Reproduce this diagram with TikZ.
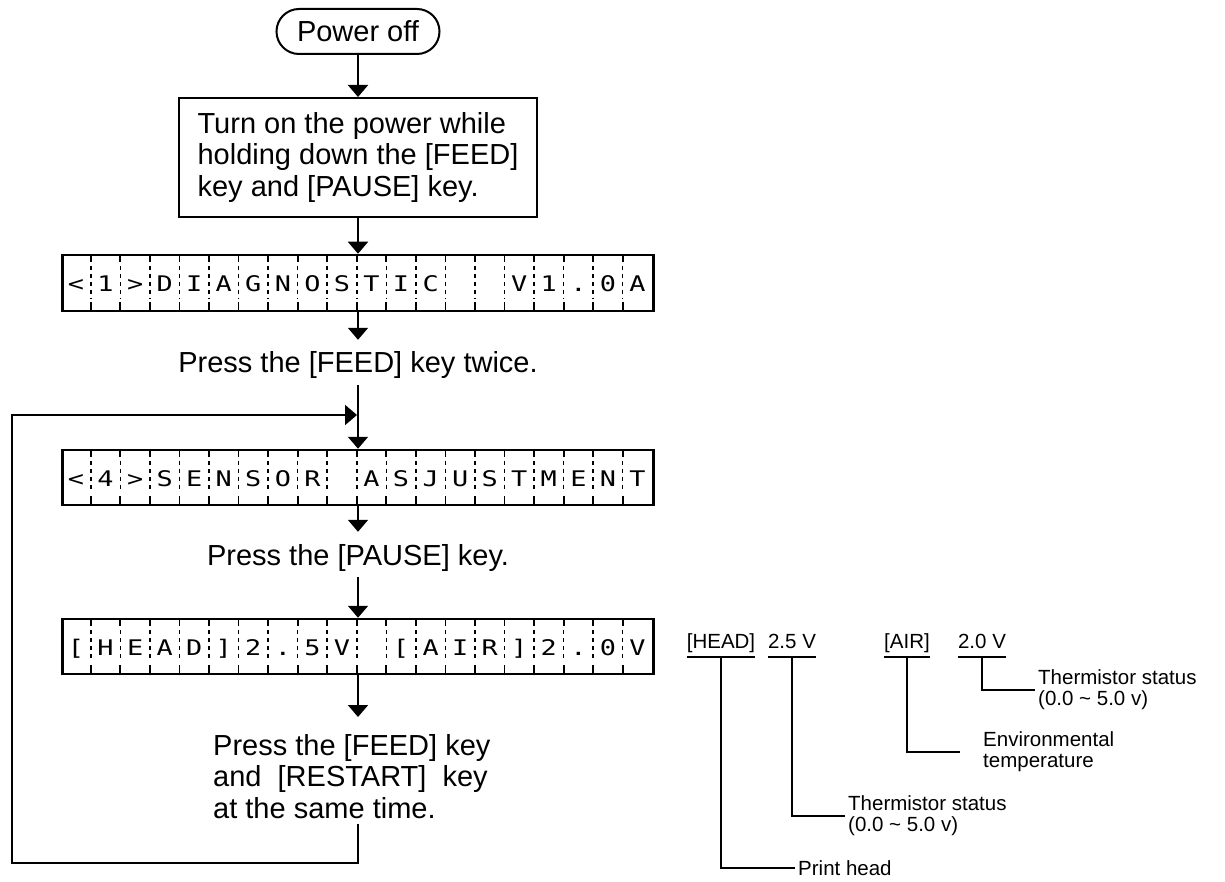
\documentclass[tikz,border=0pt]{standalone}
\usepackage{fontspec}
\setmainfont{Liberation Sans}
\newfontfamily\lcdfont[FakeStretch=1.25]{DejaVu Sans Mono}
\usetikzlibrary{arrows.meta,calc}

\newcommand{\bigtxt}{\fontsize{29}{31.5}\selectfont}
\newcommand{\smalltxt}{\fontsize{20.5}{21}\selectfont}
\newcommand{\lcdtxt}{\fontsize{21.5}{22}\selectfont\lcdfont}

\begin{document}
\begin{tikzpicture}[x=1pt, y=-1pt,
  arr/.style={line width=2pt, -{Triangle[length=12pt,width=20pt]}},
  box/.style={draw, line width=2pt, font=\bigtxt},
  lcd/.style={draw, line width=2.5pt, minimum width=591pt, minimum height=55pt, inner sep=0pt},
  cell/.style={font=\lcdtxt, anchor=base, inner sep=0pt},
  tick/.style={line width=1.8pt},
  gap/.style={line width=1.5pt, dash pattern=on 4pt off 4pt},
  note/.style={font=\bigtxt, inner sep=0pt},
  lbl/.style={font=\smalltxt, inner sep=0pt, text depth=9pt, anchor=base},
  desc/.style={font=\smalltxt, inner sep=3pt, align=left, anchor=west},
  lead/.style={line width=2pt}]
\useasboundingbox (0,0) rectangle (1225,882);

% Start
\node[box, rounded corners=22.5pt, minimum width=163pt, minimum height=45pt] (poweroff) at (358,31.5) {Power off};
\node[box, align=left, minimum width=358pt, minimum height=119pt, inner xsep=18pt] (turnon) at (358,157.5)
  {Turn on the power while\\holding down the [FEED]\\key and [PAUSE] key.};

% LCD frames
\node[lcd, minimum height=56pt] (lcd1) at (358,283) {};
\node[lcd] (lcd2) at (358,477.5) {};
\node[lcd] (lcd3) at (358,646.5) {};

% cell separators
\foreach \d in {lcd1,lcd2,lcd3}
  \foreach \i in {1,...,19} {
    \draw[tick] ($(\d.north west)+(\i*29.55,0)$) -- ++(0,8);
    \draw[tick] ($(\d.south west)+(\i*29.55,0)$) -- ++(0,-10);
    \draw[gap] ($(\d.north west)+(\i*29.55,12)$) -- ($(\d.south west)+(\i*29.55,-14)$);
  }

% LCD characters
\foreach \ch [count=\i] in {<,1,>,D,I,A,G,N,O,S,T,I,C,{},{},V,1,.,0,A}
  \node[cell] (lcda\i) at ($(lcd1.west)+(\i*29.55-14.775,8.5)$) {\ch};
\foreach \ch [count=\i] in {<,4,>,S,E,N,S,O,R,{},A,S,J,U,S,T,M,E,N,T}
  \node[cell] (lcdb\i) at ($(lcd2.west)+(\i*29.55-14.775,9)$) {\ch};
\foreach \ch [count=\i] in {{[},H,E,A,D,{]},2,.,5,V,{},{[},A,I,R,{]},2,.,0,V}
  \node[cell] (lcdc\i) at ($(lcd3.west)+(\i*29.55-14.775,9)$) {\ch};

% Key steps
\node[note, anchor=base] (twice) at (358,372) {Press the [FEED] key twice.};
\node[note, anchor=base] (pausekey) at (358,565) {Press the [PAUSE] key.};
\node[note, align=left, anchor=north west] (restart) at (213,734)
  {Press the [FEED] key\\and\ \ [RESTART]\ \ key\\at the same time.};

% Flow
\draw[arr] (poweroff) -- (turnon);
\draw[arr] (turnon) -- (lcd1);
\draw[arr, shorten >=11pt] (lcd1) -- (twice);
\draw[arr, shorten <=7pt] (twice) -- (lcd2);
\draw[arr, shorten >=12pt] (lcd2) -- (pausekey);
\draw[arr, shorten <=6pt] (pausekey) -- (lcd3);
\draw[arr, shorten >=17pt] (lcd3.south) -- (lcd3.south |- restart.north);

% Loop back
\coordinate (loopin) at (357,415);
\coordinate (loopcorner) at (12,863);
\draw[arr, shorten <=5pt] (restart.south -| lcd3.south) |- (loopcorner) |- (loopin);

% Display legend
\node[lbl] (headlbl) at (721,648) {[HEAD]};
\node[lbl] (headval) at (792,648) {2.5 V};
\node[lbl] (airlbl) at (907,648) {[AIR]};
\node[lbl] (airval) at (982,648) {2.0 V};
\foreach \n in {headlbl,headval,airlbl,airval}
  \draw[line width=1.5pt] (\n.south west) -- (\n.south east);

\node[desc] (printhead) at (795,868) {Print head};
\node[desc] (therm1) at (845,816) {Thermistor status\\(0.0 \textasciitilde{} 5.0 v)};
\node[desc] (envtemp) at (980,752) {Environmental\\temperature};
\node[desc] (therm2) at (1035,690) {Thermistor status\\(0.0 \textasciitilde{} 5.0 v)};

\draw[lead] (headlbl.south) |- (printhead.west);
\draw[lead] (headval.south) |- (therm1.west);
\draw[lead, shorten >=20pt] (airlbl.south) |- (envtemp.west);
\draw[lead] (airval.south) |- (therm2.west);
\end{tikzpicture}
\end{document}
